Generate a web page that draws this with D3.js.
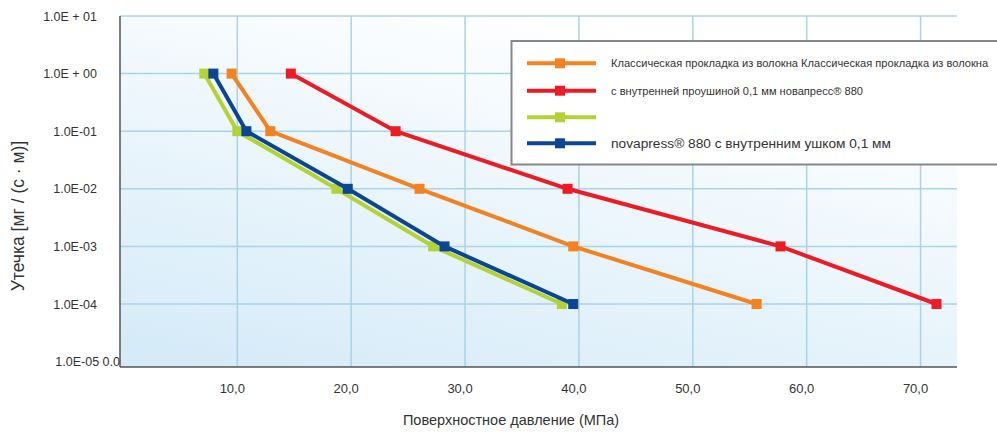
<!DOCTYPE html>
<html>
<head>
<meta charset="utf-8">
<script src="https://cdn.jsdelivr.net/npm/d3@7"></script>
<style>
  body { margin: 0; background: #fff; }
  svg { display: block; font-family: "Liberation Sans", Arial, sans-serif; }
</style>
</head>
<body>
<div id="container"></div>
<script>

const leakValues = [1, 0.1, 0.01, 0.001, 0.0001];

const pressureOrange = [9.5, 12.9, 26.0, 39.5, 55.6];
const pressureRed = [14.7, 23.9, 39.0, 57.7, 71.4];
const pressureGreen = [7.1, 10.0, 18.7, 27.2, 38.5];
const pressureBlue = [7.9, 10.8, 19.7, 28.2, 39.5];

const xTicks = [10, 20, 30, 40, 50, 60, 70];
const xTickLabels = ["10,0", "20,0", "30,0", "40,0", "50,0", "60,0", "70,0"];
const yTicks = [10, 1, 0.1, 0.01, 0.001, 0.0001, 0.00001];
const yTickLabels = ["1.0E + 01", "1.0E + 00", "1.0E-01", "1.0E-02", "1.0E-03", "1.0E-04", "1.0E-05 0.0"];

const seriesNames = [
    "Классическая прокладка из волокна Классическая прокладка из волокна",
    "с внутренней проушиной 0,1 мм новапресс® 880",
    "",
    "novapress® 880 с внутренним ушком 0,1 мм"
];
const seriesColors = ["#f58220", "#ed1c24", "#b2d235", "#0b4596"];

function main() {
    const width = 997, height = 433;
    const left = 120, right = 957, top = 16, bottom = 367;

    const svg = d3.select("#container")
        .append("svg")
        .attr("width", width)
        .attr("height", height);

    const xScale = d3.scaleLinear()
        .domain([-0.3, 73.2])
        .range([left, right]);

    const yScale = d3.scaleLog()
        .domain([1e-5, 10])
        .range([361.6, top]);

    // background gradient
    const grad = svg.append("defs").append("linearGradient")
        .attr("id", "bg")
        .attr("x1", 0).attr("y1", 1)
        .attr("x2", 0.55).attr("y2", 0);
    grad.append("stop").attr("offset", 0).attr("stop-color", "#d3eaf8");
    grad.append("stop").attr("offset", 1).attr("stop-color", "#ffffff");

    svg.append("rect")
        .attr("x", left).attr("y", top)
        .attr("width", right - left).attr("height", bottom - top)
        .attr("fill", "url(#bg)");

    // grid
    svg.append("g")
        .selectAll("line")
        .data(yTicks)
        .join("line")
        .attr("x1", left).attr("x2", right)
        .attr("y1", d => yScale(d)).attr("y2", d => yScale(d))
        .attr("stroke", "#a8d3e8")
        .attr("stroke-width", 1.5)
        .filter(d => d === 1e-5).remove();

    svg.append("g")
        .selectAll("line")
        .data(xTicks)
        .join("line")
        .attr("x1", d => xScale(d)).attr("x2", d => xScale(d))
        .attr("y1", top).attr("y2", bottom)
        .attr("stroke", "#a8d3e8")
        .attr("stroke-width", 1.5);

    // axes lines
    svg.append("line")
        .attr("x1", left).attr("x2", left)
        .attr("y1", top).attr("y2", bottom)
        .attr("stroke", "#555").attr("stroke-width", 1.5);
    svg.append("line")
        .attr("x1", left).attr("x2", right)
        .attr("y1", bottom).attr("y2", bottom)
        .attr("stroke", "#555").attr("stroke-width", 1.5);

    // tick labels
    svg.append("g")
        .selectAll("text")
        .data(yTicks)
        .join("text")
        .attr("x", (d, i) => i === yTicks.length - 1 ? 120 : 97)
        .attr("y", d => yScale(d) + 4.5)
        .attr("text-anchor", "end")
        .attr("font-size", 12.5)
        .attr("fill", "#333")
        .text((d, i) => yTickLabels[i]);

    svg.append("g")
        .selectAll("text")
        .data(xTicks)
        .join("text")
        .attr("x", d => xScale(d) - 5)
        .attr("y", 393)
        .attr("text-anchor", "middle")
        .attr("font-size", 13)
        .attr("fill", "#333")
        .text((d, i) => xTickLabels[i]);

    // axis titles
    svg.append("text")
        .attr("x", 511).attr("y", 425)
        .attr("text-anchor", "middle")
        .attr("font-size", 14.5)
        .attr("fill", "#333")
        .text("Поверхностное давление (МПа)");

    svg.append("text")
        .attr("transform", "translate(24,216) rotate(-90)")
        .attr("text-anchor", "middle")
        .attr("font-size", 17.5)
        .attr("fill", "#333")
        .text("Утечка [мг / (с · м)]");

    // series
    const allSeries = [pressureOrange, pressureRed, pressureGreen, pressureBlue];
    const line = d3.line()
        .x(d => xScale(d[0]))
        .y(d => yScale(d[1]));

    allSeries.forEach((series, k) => {
        const pts = series.map((p, i) => [p, leakValues[i]]);
        const g = svg.append("g");
        g.append("path")
            .datum(pts)
            .attr("fill", "none")
            .attr("stroke", seriesColors[k])
            .attr("stroke-width", 4)
            .attr("d", line);
        g.selectAll("rect")
            .data(pts)
            .join("rect")
            .attr("x", d => xScale(d[0]) - 5)
            .attr("y", d => yScale(d[1]) - 5)
            .attr("width", 10).attr("height", 10)
            .attr("fill", seriesColors[k]);
    });

    // legend
    const legend = svg.append("g");
    legend.append("rect")
        .attr("x", 511.5).attr("y", 41)
        .attr("width", 500).attr("height", 123.5)
        .attr("fill", "#fff")
        .attr("stroke", "#888")
        .attr("stroke-width", 2);

    const rowY = [63.3, 90.7, 117.3, 143.3];
    const rowFont = [11.1, 11.1, 11.1, 13.7];
    seriesNames.forEach((name, i) => {
        legend.append("line")
            .attr("x1", 527).attr("x2", 596)
            .attr("y1", rowY[i]).attr("y2", rowY[i])
            .attr("stroke", seriesColors[i])
            .attr("stroke-width", 4);
        legend.append("rect")
            .attr("x", 555).attr("y", rowY[i] - 5)
            .attr("width", 10).attr("height", 10)
            .attr("fill", seriesColors[i]);
        legend.append("text")
            .attr("x", 611).attr("y", rowY[i] + rowFont[i] * 0.36)
            .attr("font-size", rowFont[i])
            .attr("fill", "#333")
            .text(name);
    });
}

main();
</script>
</body>
</html>
